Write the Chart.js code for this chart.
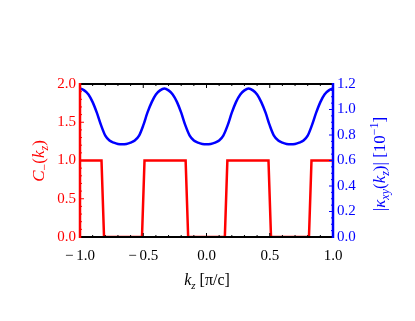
<!DOCTYPE html>
<html>
<head>
<meta charset="utf-8">
<script src="https://cdn.jsdelivr.net/npm/chart.js@4.4.1/dist/chart.umd.min.js"></script>
<style>
  html, body { margin: 0; padding: 0; background: #fff; }
  #wrap { width: 415px; height: 321px; position: relative; }
</style>
</head>
<body>
<div id="wrap"><canvas id="chart"></canvas></div>
<script>
// C-(kz) step curve (left axis)
const redX = [-1.0, -0.83, -0.81, -0.51, -0.49, -0.165, -0.145, 0.145, 0.165, 0.49, 0.51, 0.81, 0.83, 1.0];
const redY = [1, 1, 0, 0, 1, 1, 0, 0, 1, 1, 0, 0, 1, 1];

// |kappa_xy(kz)| (right axis, units of 1e-1)
const blueX = [
  -1.000, -0.967, -0.933, -0.900, -0.867, -0.833, -0.800, -0.767, -0.733, -0.700,
  -0.667, -0.633, -0.600, -0.567, -0.533, -0.500, -0.467, -0.433, -0.400, -0.367,
  -0.333, -0.300, -0.267, -0.233, -0.200, -0.167, -0.133, -0.100, -0.067, -0.033,
   0.000,  0.033,  0.067,  0.100,  0.133,  0.167,  0.200,  0.233,  0.267,  0.300,
   0.333,  0.367,  0.400,  0.433,  0.467,  0.500,  0.533,  0.567,  0.600,  0.633,
   0.667,  0.700,  0.733,  0.767,  0.800,  0.833,  0.867,  0.900,  0.933,  0.967,
   1.000
];
const blueY = [
  1.165, 1.150, 1.118, 1.058, 0.975, 0.875, 0.795, 0.757, 0.740, 0.730,
  0.727, 0.730, 0.740, 0.757, 0.795, 0.875, 0.975, 1.058, 1.118, 1.150,
  1.165, 1.150, 1.118, 1.058, 0.975, 0.875, 0.795, 0.757, 0.740, 0.730,
  0.727, 0.730, 0.740, 0.757, 0.795, 0.875, 0.975, 1.058, 1.118, 1.150,
  1.165, 1.150, 1.118, 1.058, 0.975, 0.875, 0.795, 0.757, 0.740, 0.730,
  0.727, 0.730, 0.740, 0.757, 0.795, 0.875, 0.975, 1.058, 1.118, 1.150,
  1.165
];

const xTicks = [-1.0, -0.5, 0.0, 0.5, 1.0];
const leftTicks = [0.0, 0.5, 1.0, 1.5, 2.0];
const rightTicks = [0.0, 0.2, 0.4, 0.6, 0.8, 1.0, 1.2];

const SERIF = '"Liberation Serif", "DejaVu Serif", serif';
const RED = '#ff0000';
const BLUE = '#0000ff';

function fmt(v) {
  const s = Math.abs(v).toFixed(1);
  return v < 0 ? '\u2212\u2009' + s : s;
}

// draws a label made of pieces (italic / sub / sup), centred on (x, y)
function drawRich(ctx, parts, x, y, size, color, rot) {
  ctx.save();
  ctx.translate(x, y);
  ctx.rotate(rot || 0);
  ctx.fillStyle = color;
  ctx.textBaseline = 'alphabetic';
  ctx.textAlign = 'left';
  const fontOf = p => (p.it ? 'italic ' : '') + Math.round(size * (p.sub || p.sup ? 0.7 : 1)) + 'px ' + SERIF;
  let total = 0;
  parts.forEach(p => { ctx.font = fontOf(p); p.w = ctx.measureText(p.t).width; total += p.w; });
  let cx = -total / 2;
  parts.forEach(p => {
    ctx.font = fontOf(p);
    const dy = p.sub ? size * 0.25 : (p.sup ? -size * 0.4 : 0);
    ctx.fillText(p.t, cx, dy);
    cx += p.w;
  });
  ctx.restore();
}

const framePlugin = {
  id: 'frame',
  afterDatasetsDraw(chart) {
    const { ctx, chartArea: a, scales } = chart;
    ctx.save();
    // inward ticks
    const tick = (x1, y1, x2, y2, color) => {
      ctx.strokeStyle = color; ctx.lineWidth = 1;
      ctx.beginPath(); ctx.moveTo(x1, y1); ctx.lineTo(x2, y2); ctx.stroke();
    };
    for (let i = -10; i <= 10; i++) {
      const px = scales.x.getPixelForValue(i / 10);
      const len = i % 5 === 0 ? 4 : 2;
      tick(px, a.top, px, a.top + len, '#000');
      tick(px, a.bottom, px, a.bottom - len, '#000');
    }
    for (let i = 0; i <= 20; i++) {
      const py = scales.y.getPixelForValue(i / 10);
      tick(a.left, py, a.left + (i % 5 === 0 ? 4 : 2), py, RED);
    }
    for (let i = 0; i <= 24; i++) {
      const py = scales.y1.getPixelForValue(i * 0.05);
      tick(a.right, py, a.right - (i % 4 === 0 ? 4 : 2), py, BLUE);
    }
    // frame
    ctx.lineWidth = 2;
    ctx.strokeStyle = '#000';
    ctx.beginPath();
    ctx.moveTo(a.left, a.top); ctx.lineTo(a.right, a.top);
    ctx.moveTo(a.left, a.bottom); ctx.lineTo(a.right, a.bottom);
    ctx.stroke();
    ctx.lineWidth = 2.5;
    ctx.strokeStyle = RED;
    ctx.beginPath(); ctx.moveTo(a.left, a.top - 1); ctx.lineTo(a.left, a.bottom + 1); ctx.stroke();
    ctx.strokeStyle = BLUE;
    ctx.beginPath(); ctx.moveTo(a.right, a.top - 1); ctx.lineTo(a.right, a.bottom + 1); ctx.stroke();
    ctx.restore();
  },
  afterDraw(chart) {
    const { ctx } = chart;
    drawRich(ctx, [
      { t: 'k', it: true }, { t: 'z', it: true, sub: true }, { t: ' [\u03c0/c]' }
    ], 207, 285, 16, '#000', 0);
    drawRich(ctx, [
      { t: 'C', it: true }, { t: '\u2212', sub: true }, { t: '(' },
      { t: 'k', it: true }, { t: 'z', it: true, sub: true }, { t: ')' }
    ], 44, 161, 17, RED, -Math.PI / 2);
    drawRich(ctx, [
      { t: '|' }, { t: '\u03ba', it: true }, { t: 'xy', it: true, sub: true }, { t: '(' },
      { t: 'k', it: true }, { t: 'z', it: true, sub: true }, { t: ')| [10' },
      { t: '\u22121', sup: true }, { t: ']' }
    ], 385, 164, 17, BLUE, -Math.PI / 2);
  }
};

new Chart(document.getElementById('chart'), {
  type: 'line',
  data: {
    datasets: [
      {
        label: 'C-',
        data: redX.map((x, i) => ({ x: x, y: redY[i] })),
        borderColor: RED,
        borderWidth: 2.5,
        pointRadius: 0,
        tension: 0,
        yAxisID: 'y'
      },
      {
        label: 'kappa',
        data: blueX.map((x, i) => ({ x: x, y: blueY[i] })),
        borderColor: BLUE,
        borderWidth: 2.5,
        pointRadius: 0,
        cubicInterpolationMode: 'monotone',
        yAxisID: 'y1'
      }
    ]
  },
  options: {
    responsive: true,
    maintainAspectRatio: false,
    animation: false,
    layout: { padding: { top: 84, left: 0, right: 0, bottom: 0 } },
    plugins: { legend: { display: false }, tooltip: { enabled: false } },
    scales: {
      x: {
        type: 'linear', min: -1, max: 1,
        afterFit: s => { s.height = 84; },
        afterBuildTicks: s => { s.ticks = xTicks.map(v => ({ value: v })); },
        ticks: { color: '#000', font: { family: SERIF, size: 15 }, padding: 10, maxRotation: 0, callback: v => fmt(v) },
        grid: { display: false, drawTicks: false },
        border: { display: false }
      },
      y: {
        position: 'left', min: 0, max: 2,
        afterFit: s => { s.width = 80; },
        afterBuildTicks: s => { s.ticks = leftTicks.map(v => ({ value: v })); },
        ticks: { color: RED, font: { family: SERIF, size: 15 }, padding: 4, callback: v => v.toFixed(1) },
        grid: { display: false, drawTicks: false },
        border: { display: false }
      },
      y1: {
        position: 'right', min: 0, max: 1.2,
        afterFit: s => { s.width = 82; },
        afterBuildTicks: s => { s.ticks = rightTicks.map(v => ({ value: v })); },
        ticks: { color: BLUE, font: { family: SERIF, size: 15 }, padding: 4, callback: v => v.toFixed(1) },
        grid: { display: false, drawTicks: false },
        border: { display: false }
      }
    }
  },
  plugins: [framePlugin]
});
</script>
</body>
</html>
